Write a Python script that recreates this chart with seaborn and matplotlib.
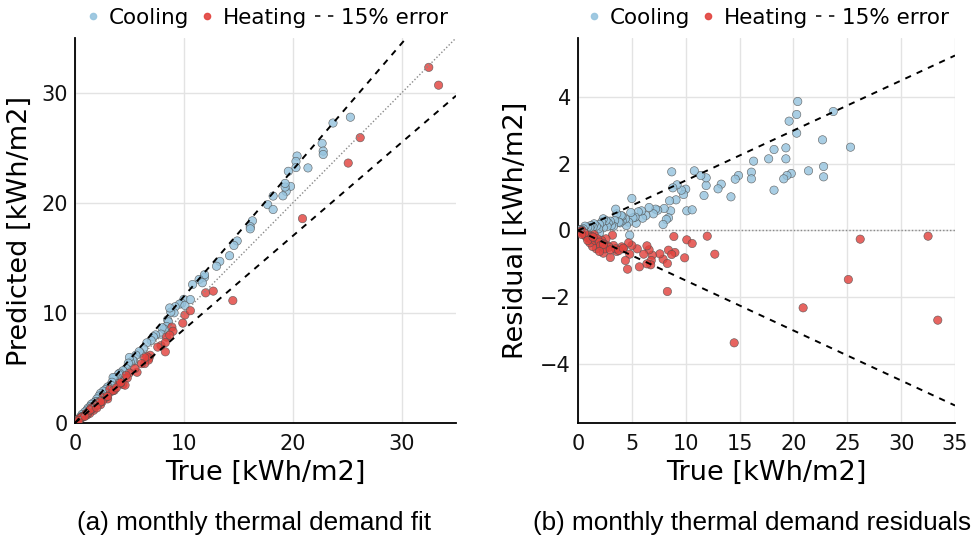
import numpy as np
import pandas as pd
import matplotlib
matplotlib.use("Agg")
import matplotlib.pyplot as plt
from matplotlib.lines import Line2D
import seaborn as sns

# ---------------- data ----------------
categories = ["Cooling", "Heating"]

cooling_true = [
    25.3, 23.7, 22.7, 22.8, 22.8, 21.4, 20.4, 20.3, 20.3, 19.6,
    19.8, 19.4, 19.1, 19.3, 19.3, 18.2, 17.7, 18.2, 16.3, 16.1,
    16.1, 14.9, 14.6, 14.2, 13.3, 13.0, 11.9, 11.9, 11.4, 10.8,
    11.7, 10.0, 9.8, 9.6, 9.2, 9.1, 8.8, 8.7, 8.5, 10.1,
    10.6, 8.6, 8.4, 8.2, 8.0, 7.9, 7.4, 7.2, 7.0, 6.6,
    6.3, 6.0, 5.9, 5.6, 5.4, 5.3, 5.1, 5.0, 4.9, 4.8,
    4.7, 4.5, 4.4, 4.1, 4.1, 4.0, 3.9, 3.8, 3.6, 3.5,
    3.4, 3.3, 3.1, 3.0, 2.8, 2.7, 2.6, 2.35, 2.35, 2.2,
    2.0, 2.0, 1.9, 1.7, 1.5, 1.4, 1.2, 1.1, 0.9, 0.65,
    0.5, 0.3, 0.2, 0.1,
]
cooling_resid = [
    2.50, 3.57, 2.72, 1.92, 1.61, 1.79, 3.87, 3.48, 2.92, 3.28,
    1.71, 1.65, 1.55, 2.15, 2.48, 2.43, 2.15, 1.21, 2.08, 1.75,
    1.55, 1.65, 1.54, 1.01, 1.39, 1.25, 1.35, 1.58, 1.65, 1.79,
    1.05, 1.24, 1.08, 1.21, 1.37, 0.92, 1.28, 1.76, 0.89, 0.59,
    0.62, 0.59, 0.38, 0.33, 0.66, 0.18, 0.61, 0.64, 0.50, 0.69,
    0.45, 0.37, 0.59, 0.56, 0.22, 0.40, 0.38, 0.96, 0.54, -0.14,
    0.25, 0.15, 0.35, 0.29, 0.43, 0.45, 0.23, 0.25, 0.50, 0.64,
    0.30, 0.13, 0.15, 0.28, 0.23, 0.12, 0.30, 0.35, 0.08, 0.25,
    0.18, -0.07, 0.05, 0.13, 0.20, 0.11, 0.15, 0.08, 0.10, 0.13,
    0.05, 0.03, 0.02, 0.01,
]

heating_true = [
    32.5, 33.4, 26.2, 25.1, 20.9, 14.5, 12.0, 12.7, 10.1, 10.6,
    8.9, 9.9, 8.3, 8.4, 9.0, 8.7, 7.9, 8.3, 7.6, 6.9,
    6.8, 6.75, 6.4, 6.6, 6.4, 6.1, 5.7, 5.5, 5.0, 4.8,
    4.7, 4.4, 4.6, 4.2, 4.06, 3.6, 3.3, 3.0, 3.2, 2.7,
    2.35, 2.6, 2.2, 1.9, 1.7, 1.35, 1.1, 0.96, 0.65, 0.5,
    1.5, 0.2, 0.3, 0.4, 0.7, 0.8, 1.0, 1.2, 1.3, 1.6,
    1.8, 2.0, 2.1, 2.4, 0.6, 0.35, 0.9, 1.4, 2.9, 3.5,
    2.5, 3.8, 2.35, 3.0, 2.0, 4.2,
]
heating_resid = [
    -0.17, -2.69, -0.26, -1.47, -2.32, -3.37, -0.17, -0.71, -0.28, -0.39,
    -0.18, -0.82, -1.83, -0.59, -0.66, -0.72, -0.86, -0.99, -0.70, -0.74,
    -0.90, -1.03, -1.00, -0.58, -0.46, -0.71, -1.09, -0.55, -0.45, -0.71,
    -0.37, -0.90, -1.16, -0.55, -0.49, -0.63, -0.45, -0.81, -0.14, -0.45,
    -0.68, -0.25, -0.30, -0.37, -0.55, -0.48, -0.37, -0.22, -0.15, -0.07,
    -0.12, -0.02, -0.05, -0.01, -0.10, -0.20, -0.15, -0.25, -0.18, -0.30,
    -0.25, -0.35, -0.45, -0.40, -0.08, -0.12, -0.30, -0.20, -0.50, -0.55,
    -0.55, -0.60, -0.42, -0.58, -0.63, -0.53,
]

error_pct = 0.15
x_max = 35
fit_ticks = [0, 10, 20, 30]
res_xticks = [0, 5, 10, 15, 20, 25, 30, 35]
res_yticks = [-4, -2, 0, 2, 4]
res_ylim = 5.775
captions = ["(a) monthly thermal demand fit", "(b) monthly thermal demand residuals"]
legend_labels = ["Cooling", "Heating", "15% error"]

colors = {"Cooling": "#96c4de", "Heating": "#e2433e"}

# ---------------- frame ----------------
df = pd.concat([
    pd.DataFrame({"true": cooling_true, "resid": cooling_resid, "type": "Cooling"}),
    pd.DataFrame({"true": heating_true, "resid": heating_resid, "type": "Heating"}),
], ignore_index=True)
df["pred"] = df["true"] + df["resid"]

sns.set_style("white")
plt.rcParams["font.family"] = ["DejaVu Sans"]
plt.rcParams["text.color"] = "black"
plt.rcParams["axes.labelcolor"] = "black"

fig = plt.figure(figsize=(9.74, 5.42), dpi=100)
ax1 = fig.add_axes([75 / 974, 1 - 423 / 542, 381 / 974, 385 / 542])
ax2 = fig.add_axes([578 / 974, 1 - 423 / 542, 377 / 974, 385 / 542])

line_x = np.array([0, x_max])

for ax, ycol in [(ax1, "pred"), (ax2, "resid")]:
    sns.scatterplot(data=df, x="true", y=ycol, hue="type", hue_order=categories,
                    palette=colors, s=36, alpha=0.82, edgecolor="#505050",
                    linewidth=0.45, legend=False, ax=ax, zorder=3)

# fit panel reference lines
ax1.plot(line_x, line_x, ls=(0, (1, 1.5)), color="#8a8a8a", lw=1.0, zorder=4)
ax1.plot(line_x, (1 + error_pct) * line_x, ls=(0, (3.2, 3.2)), color="black", lw=1.4, zorder=4)
ax1.plot(line_x, (1 - error_pct) * line_x, ls=(0, (3.2, 3.2)), color="black", lw=1.4, zorder=4)
ax1.set_xlim(0, x_max)
ax1.set_ylim(0, x_max)
ax1.set_xticks(fit_ticks)
ax1.set_yticks(fit_ticks)
ax1.set_ylabel("Predicted [kWh/m2]", fontsize=19.5, labelpad=6, color="black")

# residual panel reference lines
ax2.plot(line_x, 0 * line_x, ls=(0, (1, 1.5)), color="#8a8a8a", lw=1.0, zorder=4)
ax2.plot(line_x, error_pct * line_x, ls=(0, (3.2, 3.2)), color="black", lw=1.4, zorder=4)
ax2.plot(line_x, -error_pct * line_x, ls=(0, (3.2, 3.2)), color="black", lw=1.4, zorder=4)
ax2.set_xlim(0, x_max)
ax2.set_ylim(-res_ylim, res_ylim)
ax2.set_xticks(res_xticks)
ax2.set_yticks(res_yticks)
ax2.set_ylabel("Residual [kWh/m2]", fontsize=19.5, labelpad=8, color="black")

for ax, cap in zip([ax1, ax2], captions):
    ax.set_xlabel("True [kWh/m2]", fontsize=19.5, labelpad=4, color="black")
    ax.grid(True, color="#e3e3e3", lw=1.0, zorder=0)
    ax.set_axisbelow(True)
    for s in ["top", "right"]:
        ax.spines[s].set_visible(False)
    for s in ["left", "bottom"]:
        ax.spines[s].set_color("black")
        ax.spines[s].set_linewidth(1.3)
    ax.tick_params(axis="both", length=0, labelsize=15, colors="#111111")
    ax.tick_params(axis="x", pad=8)
    ax.tick_params(axis="y", pad=5)

    handles = [
        Line2D([], [], marker="o", ls="none", ms=4.5, color=colors["Cooling"], alpha=0.9),
        Line2D([], [], marker="o", ls="none", ms=4.5, color=colors["Heating"], alpha=0.9),
        Line2D([], [], ls=(0, (3.5, 5)), color="black", lw=1.1),
    ]
    leg = ax.legend(handles, legend_labels, loc="center", bbox_to_anchor=(0.5, 1 + 20 / 385),
                    ncol=3, frameon=False, fontsize=15.5, handlelength=0.9,
                    handletextpad=0.3, columnspacing=0.35, borderaxespad=0, borderpad=0)
    for t in leg.get_texts():
        t.set_color("black")

fig.text(77 / 974, 1 - 523 / 542, captions[0], family="Liberation Sans",
         fontsize=18.8, ha="left", va="center", color="black")
fig.text(533 / 974, 1 - 523 / 542, captions[1], family="Liberation Sans",
         fontsize=18.8, ha="left", va="center", color="black")

fig.savefig("out.png", dpi=100)
